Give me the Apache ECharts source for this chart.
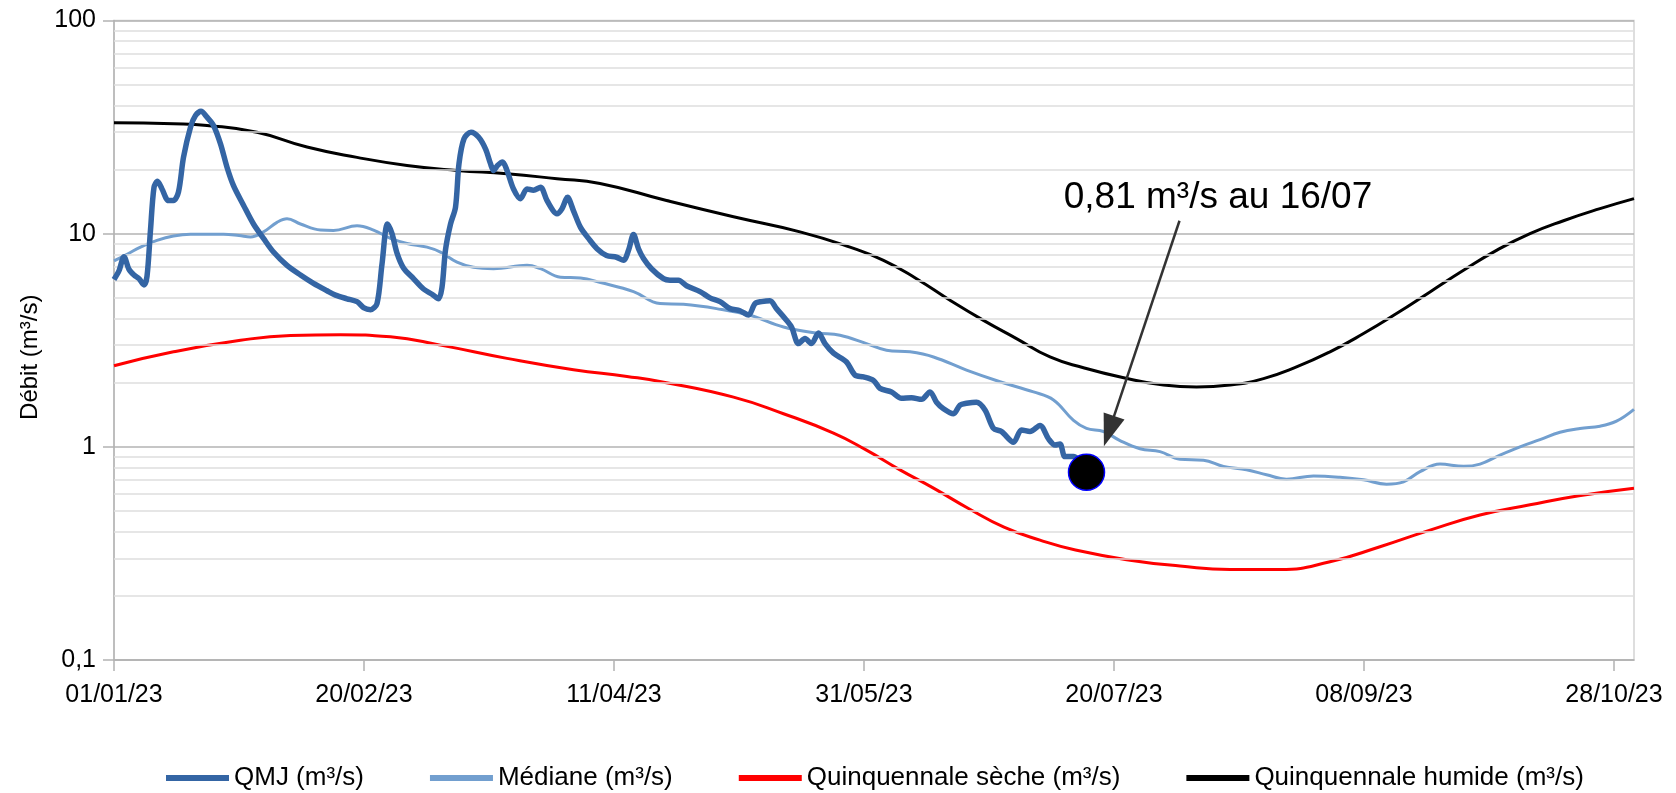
<!DOCTYPE html>
<html>
<head>
<meta charset="utf-8">
<script src="https://cdn.jsdelivr.net/npm/echarts@6/dist/echarts.min.js"></script>
<style>
html,body{margin:0;padding:0;background:#fff;}
#c{width:1676px;height:793px;}
</style>
</head>
<body>
<div id="c"></div>
<script>
// x = days since 01/01/2023
const xTickValues = [0, 50, 100, 150, 200, 250, 300];
const xTickLabels = ['01/01/23', '20/02/23', '11/04/23', '31/05/23', '20/07/23', '08/09/23', '28/10/23'];
const yTickValues = [0.1, 1, 10, 100];
const yTickLabels = ['0,1', '1', '10', '100'];
const minorGridValues = [0.2,0.3,0.4,0.5,0.6,0.7,0.8,0.9,2,3,4,5,6,7,8,9,20,30,40,50,60,70,80,90];

const seriesNames = ['QMJ (m³/s)', 'Médiane (m³/s)', 'Quinquennale sèche (m³/s)', 'Quinquennale humide (m³/s)'];

const qmj = [
[0,6.1],[1,6.7],[2,7.8],[3,6.8],[4,6.4],[5,6.15],[6,5.75],[6.6,6.3],[7.3,10.4],[8,16.5],[8.7,17.6],[9.6,16.2],
[10.9,14.3],[11.9,14.3],[12.9,15.7],[13.9,22.8],[15.3,31.6],[16.3,35.8],[17.4,37.5],[18.6,35.2],[19.9,32.2],
[21.3,26.4],[22.6,20.5],[23.9,16.8],[25.9,13.6],[27.9,11.1],[29.9,9.5],[31.9,8.2],[34.6,7.1],[37.3,6.4],
[39.9,5.85],[42.6,5.4],[44.3,5.15],[46.6,4.95],[48.6,4.8],[49.9,4.5],[51.3,4.4],[52.6,4.7],[53.6,7.2],
[54.7,11.1],[55.6,10],[56.6,8.1],[57.9,6.9],[59.9,6.15],[61.9,5.5],[63.6,5.2],[64.9,4.95],[65.6,5.6],
[66.3,8.4],[67.3,11.1],[68.3,13.3],[69,21.3],[70,27.9],[71.4,29.9],[72.9,28.4],[74.3,25],[75.3,21.3],
[75.9,19.8],[76.7,20.9],[77.7,21.7],[78.6,19.8],[79.9,16.2],[81.3,14.6],[82.6,16.2],[83.9,16],[85.3,16.5],
[86.6,14.3],[88.6,12.4],[89.6,13.1],[90.7,14.8],[91.9,12.8],[93.3,10.7],[94.9,9.5],[96.6,8.5],[98.5,7.9],
[100.5,7.75],[101.9,7.5],[102.9,8.35],[103.9,9.9],[104.9,8.5],[105.9,7.65],[107.5,6.85],[109.9,6.15],
[111.2,6.05],[112.9,6.05],[114.5,5.7],[117.2,5.35],[119.2,5.0],[121.2,4.8],[123.2,4.45],[125.2,4.35],
[126.9,4.15],[128.2,4.7],[129.5,4.8],[131.2,4.85],[132.5,4.45],[134.2,4.0],[135.5,3.65],[136.9,3.05],
[138.2,3.22],[139.5,3.05],[140.9,3.42],[142.2,3.05],[143.9,2.75],[146.5,2.5],[148.2,2.17],[149.9,2.13],
[151.9,2.05],[153.2,1.88],[155.5,1.81],[157.5,1.69],[159.5,1.70],[161.5,1.67],[163.2,1.81],[164.5,1.62],
[165.9,1.51],[167.9,1.43],[169.2,1.57],[170.5,1.6],[172.5,1.62],[174.2,1.49],[175.9,1.22],[177.5,1.18],
[179.9,1.05],[181.5,1.2],[183.2,1.18],[185.2,1.26],[186.9,1.09],[188.2,1.02],[189.2,1.03],[190.2,0.9],
[191.9,0.9],[193,0.87]
];

const mediane = [
[0,7.45],[2.6,8.0],[5.3,8.65],[8.6,9.3],[11.9,9.75],[15.3,9.93],[21.9,9.93],[25,9.8],[27.3,9.65],[29.9,10.2],
[32.6,11.3],[34.6,11.75],[37.3,11.1],[41.3,10.4],[43.9,10.35],[48.6,10.9],[51.9,10.4],[55.3,9.5],[58.6,9.0],
[62.6,8.65],[65.3,8.2],[68.6,7.35],[71.9,6.95],[75.9,6.85],[82.6,7.1],[85.3,6.85],[89.3,6.25],[93.3,6.2],
[97.3,5.9],[103.9,5.35],[109.2,4.7],[113.9,4.66],[120.5,4.45],[127.2,4.14],[133.9,3.65],[140.5,3.42],
[145.2,3.34],[150.5,3.05],[154.5,2.84],[159.2,2.79],[163.9,2.64],[170.5,2.29],[177.2,2.02],[183.9,1.81],
[187.9,1.66],[191.9,1.33],[194.5,1.22],[197.9,1.18],[201.2,1.07],[205.2,0.98],[209.2,0.95],[213.2,0.875],
[217.9,0.866],[221.9,0.81],[226.5,0.78],[230.5,0.74],[234.5,0.705],[239.9,0.73],[245.2,0.72],[249.9,0.70],
[254.5,0.668],[257.9,0.685],[261.2,0.765],[265.2,0.83],[269.9,0.81],[273.2,0.83],[277.2,0.915],[281.2,1.0],
[285.2,1.08],[289.2,1.17],[293.2,1.22],[297.2,1.25],[300.5,1.32],[304,1.5]
];

const quinqSeche = [
[0,2.40],[11.9,2.79],[25.3,3.16],[35.3,3.33],[45.3,3.36],[55.3,3.28],[65.3,3.0],[78.6,2.6],[91.9,2.3],
[102.6,2.14],[110.5,2.0],[123.9,1.71],[133.9,1.43],[143.9,1.16],[150.5,0.965],[157.2,0.78],
[163.9,0.64],[170.9,0.514],[178,0.42],[185.2,0.365],[192.3,0.328],[203.2,0.294],[213.2,0.276],
[223.2,0.266],[233.2,0.266],[243.2,0.289],[253.2,0.34],[263.2,0.407],[273.2,0.479],[283.2,0.535],
[293,0.59],[304,0.64]
];

const quinqHumide = [
[0,33.1],[11.9,32.8],[18.6,32.2],[28.6,29.9],[38.6,25.5],[48.6,22.8],[58.6,20.9],[68.6,19.8],[78.6,19.1],
[88.6,18.1],[97.2,17.2],[110.5,14.3],[123.9,12.0],[137.2,10.2],[147.2,8.65],[153.9,7.5],
[160.5,6.15],[167.2,4.87],[173.9,3.92],[180.5,3.22],[187.2,2.64],[193.9,2.35],[201.5,2.12],[209.9,1.95],
[216.5,1.91],[223.2,1.95],[229.9,2.09],[236.5,2.37],[243.2,2.79],[249.9,3.4],[256.5,4.22],[263.2,5.33],
[269.9,6.73],[276.5,8.35],[283.2,10.0],[289.9,11.5],[297.2,13.1],[304,14.6]
];

const lastPoint = [[194.5, 0.76]];
const annotationText = '0,81 m³/s au 16/07';
const annotationPos = [220.8, 14.7];
const arrowFrom = [213.1, 11.5];
const arrowTo = [199.0, 1.185];

const FONT = 'Liberation Sans, Arial, sans-serif';
const chart = echarts.init(document.getElementById('c'), null, {renderer: 'canvas'});

chart.setOption({
  animation: false,
  backgroundColor: '#ffffff',
  textStyle: {fontFamily: FONT},
  grid: {left: 114, right: 42, top: 20.5, bottom: 133, show: true, borderColor: '#d4d4d4', borderWidth: 1.5},
  legend: {
    data: seriesNames,
    left: 161, top: 760,
    icon: 'rect', itemWidth: 63, itemHeight: 6, itemGap: 66,
    textStyle: {fontSize: 26, color: '#000', fontFamily: FONT}
  },
  xAxis: {
    type: 'value', min: 0, max: 304,
    axisLine: {show: true, lineStyle: {color: '#b3b3b3', width: 1.5}},
    axisTick: {show: true, customValues: xTickValues, length: 11, lineStyle: {color: '#b3b3b3', width: 1.5}},
    axisLabel: {customValues: xTickValues, margin: 23, fontSize: 25, color: '#000', fontFamily: FONT,
      formatter: v => { const i = xTickValues.indexOf(v); return i >= 0 ? xTickLabels[i] : ''; }},
    splitLine: {show: false}
  },
  yAxis: {
    type: 'log', logBase: 10, min: 0.1, max: 100,
    name: 'Débit (m³/s)', nameLocation: 'middle', nameGap: 72, nameRotate: 90,
    nameTextStyle: {fontSize: 24, color: '#000', fontFamily: FONT, padding: [0, 34, 0, 0]},
    axisLine: {show: true, lineStyle: {color: '#b3b3b3', width: 1.5}},
    axisTick: {show: true, length: 11, lineStyle: {color: '#b3b3b3', width: 1.5}},
    axisLabel: {margin: 18, fontSize: 25, color: '#000', fontFamily: FONT,
      formatter: v => { let best = 0; yTickValues.forEach((t, i) => { if (Math.abs(Math.log10(t) - Math.log10(v)) < 1e-6) best = i; }); return yTickLabels[best]; }},
    splitLine: {show: true, lineStyle: {color: '#b3b3b3', width: 1.5}}
  },
  series: [
    {
      name: 'minor-grid', type: 'line', data: [], z: 1, silent: true,
      markLine: {silent: true, symbol: 'none', animation: false, label: {show: false},
        lineStyle: {color: '#dedede', width: 1.5, type: 'solid'},
        emphasis: {disabled: true},
        data: minorGridValues.map(v => ({yAxis: v}))}
    },
    {name: seriesNames[3], type: 'line', data: quinqHumide, smooth: 0.5, showSymbol: false, z: 3,
      lineStyle: {color: '#000000', width: 3}, itemStyle: {color: '#000000'}},
    {name: seriesNames[2], type: 'line', data: quinqSeche, smooth: 0.5, showSymbol: false, z: 3,
      lineStyle: {color: '#ff0000', width: 3}, itemStyle: {color: '#ff0000'}},
    {name: seriesNames[1], type: 'line', data: mediane, smooth: 0.4, showSymbol: false, z: 4,
      lineStyle: {color: '#729fcf', width: 3}, itemStyle: {color: '#729fcf'}},
    {name: seriesNames[0], type: 'line', data: qmj, smooth: 0.3, showSymbol: false, z: 5,
      lineStyle: {color: '#3465a4', width: 5.5}, itemStyle: {color: '#3465a4'}},
    {
      name: 'dernier', type: 'scatter', data: lastPoint, symbolSize: 36, z: 8,
      itemStyle: {color: '#000000', opacity: 1, borderColor: '#0000ff', borderWidth: 1.5},
      markLine: {
        silent: true, animation: false, label: {show: false},
        lineStyle: {color: '#333333', width: 2.5, type: 'solid', opacity: 1},
        data: [[
          {coord: arrowFrom, symbol: 'none', symbolSize: 1},
          {coord: arrowTo, symbol: 'triangle', symbolSize: [22, 32]}
        ]]
      },
      markPoint: {
        silent: true, animation: false,
        data: [{coord: annotationPos, symbol: 'rect', symbolSize: 1, itemStyle: {color: 'rgba(0,0,0,0)'},
          label: {show: true, position: 'inside', formatter: annotationText, fontSize: 37, color: '#000', fontFamily: FONT}}]
      }
    }
  ]
});
</script>
</body>
</html>
